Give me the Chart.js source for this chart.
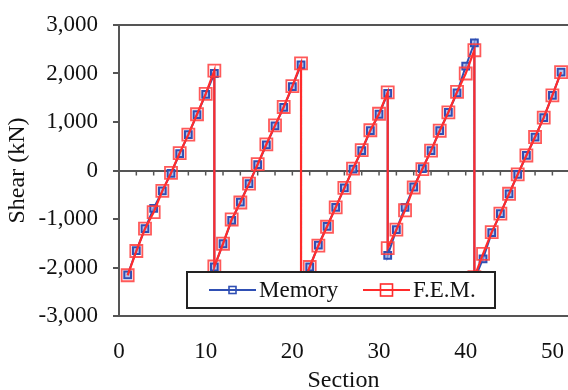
<!DOCTYPE html>
<html>
<head>
<meta charset="utf-8">
<script src="https://cdn.jsdelivr.net/npm/chart.js@4/dist/chart.umd.min.js"></script>
<style>
  html, body { margin: 0; padding: 0; background: #fff; }
  canvas { display: block; }
</style>
</head>
<body>
<canvas id="shearChart" width="568" height="390"></canvas>
<script>
// section numbers (each jump repeats the section where the shear drops)
const sections = [
  1, 2, 3, 4, 5, 6, 7, 8, 9, 10, 11,
  11, 12, 13, 14, 15, 16, 17, 18, 19, 20, 21,
  21, 22, 23, 24, 25, 26, 27, 28, 29, 30, 31,
  31, 32, 33, 34, 35, 36, 37, 38, 39, 40, 41,
  41, 42, 43, 44, 45, 46, 47, 48, 49, 50, 51
];

const memoryShear = [
  -2150, -1650, -1200, -780, -420, -60, 350, 740, 1150, 1570, 2000,
  -1990, -1510, -1030, -650, -270, 120, 530, 920, 1300, 1730, 2180,
  -2450, -1990, -1540, -1150, -760, -360, 30, 410, 820, 1160, 1590,
  -1750, -1220, -760, -340, 40, 410, 820, 1200, 1600, 2150, 2630,
  -2250, -1820, -1280, -890, -480, -80, 310, 690, 1090, 1550, 2030
];

const femShear = [
  -2160, -1660, -1200, -860, -420, -50, 360, 740, 1160, 1580, 2060,
  -1980, -1510, -1010, -660, -270, 130, 540, 930, 1310, 1740, 2210,
  -2450, -1990, -1550, -1160, -760, -360, 40, 420, 830, 1170, 1610,
  -1600, -1220, -820, -350, 30, 410, 820, 1200, 1620, 2000, 2480,
  -2200, -1720, -1270, -890, -480, -80, 310, 690, 1090, 1550, 2030
];

const xTicks = [0, 10, 20, 30, 40, 50];
const yTicks = [-3000, -2000, -1000, 0, 1000, 2000, 3000];

const BLUE = '#2f4fb4';
const RED = '#ff2b2b';
const AXIS = '#555555';
const FONT = "'Liberation Serif', 'DejaVu Serif', serif";

const toPoints = (vals) => vals.map((v, i) => ({ x: sections[i], y: v }));

// small ticks along the zero line, and the boxed legend sitting in the plot
const zeroTicks = {
  id: 'zeroTicks',
  beforeDatasetsDraw(chart) {
    const { ctx, scales: { x, y } } = chart;
    const y0 = y.getPixelForValue(0);
    ctx.save();
    ctx.strokeStyle = AXIS;
    ctx.lineWidth = 1.5;
    for (let s = 2; s <= x.max; s += 2) {
      const px = x.getPixelForValue(s);
      ctx.beginPath();
      ctx.moveTo(px, y0);
      ctx.lineTo(px, y0 + 5);
      ctx.stroke();
    }
    ctx.restore();
  }
};

const boxLegend = {
  id: 'boxLegend',
  afterDraw(chart) {
    const { ctx, chartArea } = chart;
    const left = chartArea.left + 68;
    const top = chartArea.top + 247;
    const w = 308, h = 36;
    const cy = top + h / 2;
    ctx.save();
    ctx.fillStyle = '#fff';
    ctx.fillRect(left, top, w, h);
    ctx.strokeStyle = '#222';
    ctx.lineWidth = 2;
    ctx.strokeRect(left, top, w, h);

    const item = (x0, color, size, lw, label) => {
      ctx.strokeStyle = color;
      ctx.lineWidth = lw;
      ctx.beginPath();
      ctx.moveTo(x0, cy);
      ctx.lineTo(x0 + 47, cy);
      ctx.stroke();
      ctx.lineWidth = 1.6;
      ctx.strokeRect(x0 + 23.5 - size / 2, cy - size / 2, size, size);
      ctx.fillStyle = '#111';
      ctx.font = "23px " + FONT;
      ctx.textBaseline = 'middle';
      ctx.textAlign = 'left';
      ctx.fillText(label, x0 + 50, cy + 1);
    };
    item(left + 22, BLUE, 7, 2, 'Memory');
    item(left + 176, RED, 12, 2, 'F.E.M.');
    ctx.restore();
  }
};

const ctx = document.getElementById('shearChart').getContext('2d');
new Chart(ctx, {
  type: 'scatter',
  data: {
    datasets: [
      {
        label: 'F.E.M.',
        data: toPoints(femShear),
        showLine: true,
        borderColor: RED,
        borderWidth: 2.2,
        pointStyle: 'rect',
        pointRadius: 8.5,
        pointBorderWidth: 1.8,
        pointBorderColor: 'rgba(255,60,60,0.85)',
        pointBackgroundColor: 'rgba(0,0,0,0)',
        order: 0
      },
      {
        label: 'Memory',
        data: toPoints(memoryShear),
        showLine: true,
        borderColor: BLUE,
        borderWidth: 2,
        pointStyle: 'rect',
        pointRadius: 4.8,
        pointBorderWidth: 2,
        pointBorderColor: BLUE,
        pointBackgroundColor: 'rgba(150,170,225,0.7)',
        order: 1
      }
    ]
  },
  options: {
    responsive: false,
    animation: false,
    devicePixelRatio: 1,
    layout: {
      autoPadding: false,
      padding: { top: 25, right: 0, left: 0, bottom: 0 }
    },
    plugins: {
      legend: { display: false },
      tooltip: { enabled: false }
    },
    scales: {
      x: {
        type: 'linear',
        min: 0,
        max: 51.8,
        afterFit: (scale) => {
          scale.height = 74;
          scale.paddingLeft = 0;
          scale.paddingRight = 0;
        },
        afterBuildTicks: (scale) => { scale.ticks = xTicks.map(v => ({ value: v })); },
        grid: {
          display: true,
          drawOnChartArea: false,
          drawTicks: true,
          tickLength: 20,
          tickColor: 'rgba(0,0,0,0)'
        },
        border: { display: true, color: AXIS, width: 2 },
        ticks: {
          padding: 2,
          color: '#111',
          font: { family: FONT, size: 23 },
          maxRotation: 0
        },
        title: {
          display: true,
          text: 'Section',
          color: '#111',
          font: { family: FONT, size: 24, lineHeight: 0.75 },
          padding: { top: 0, bottom: 0 }
        }
      },
      y: {
        min: -3000,
        max: 3000,
        afterFit: (scale) => {
          scale.width = 119;
          scale.paddingTop = 0;
          scale.paddingBottom = 0;
        },
        afterBuildTicks: (scale) => { scale.ticks = yTicks.map(v => ({ value: v })); },
        grid: {
          drawOnChartArea: true,
          drawTicks: true,
          tickLength: 6,
          lineWidth: 2,
          color: (c) => (c.tick && (c.tick.value === 0 || c.tick.value === 3000)) ? AXIS : 'rgba(0,0,0,0)',
          tickColor: AXIS
        },
        border: { display: true, color: AXIS, width: 2 },
        ticks: {
          padding: 15,
          color: '#111',
          font: { family: FONT, size: 23 },
          callback: (v) => v.toLocaleString('en-US')
        },
        title: {
          display: true,
          text: 'Shear (kN)',
          color: '#111',
          font: { family: FONT, size: 24 },
          padding: { top: 3, bottom: 0 }
        }
      }
    }
  },
  plugins: [zeroTicks, boxLegend]
});
</script>
</body>
</html>
